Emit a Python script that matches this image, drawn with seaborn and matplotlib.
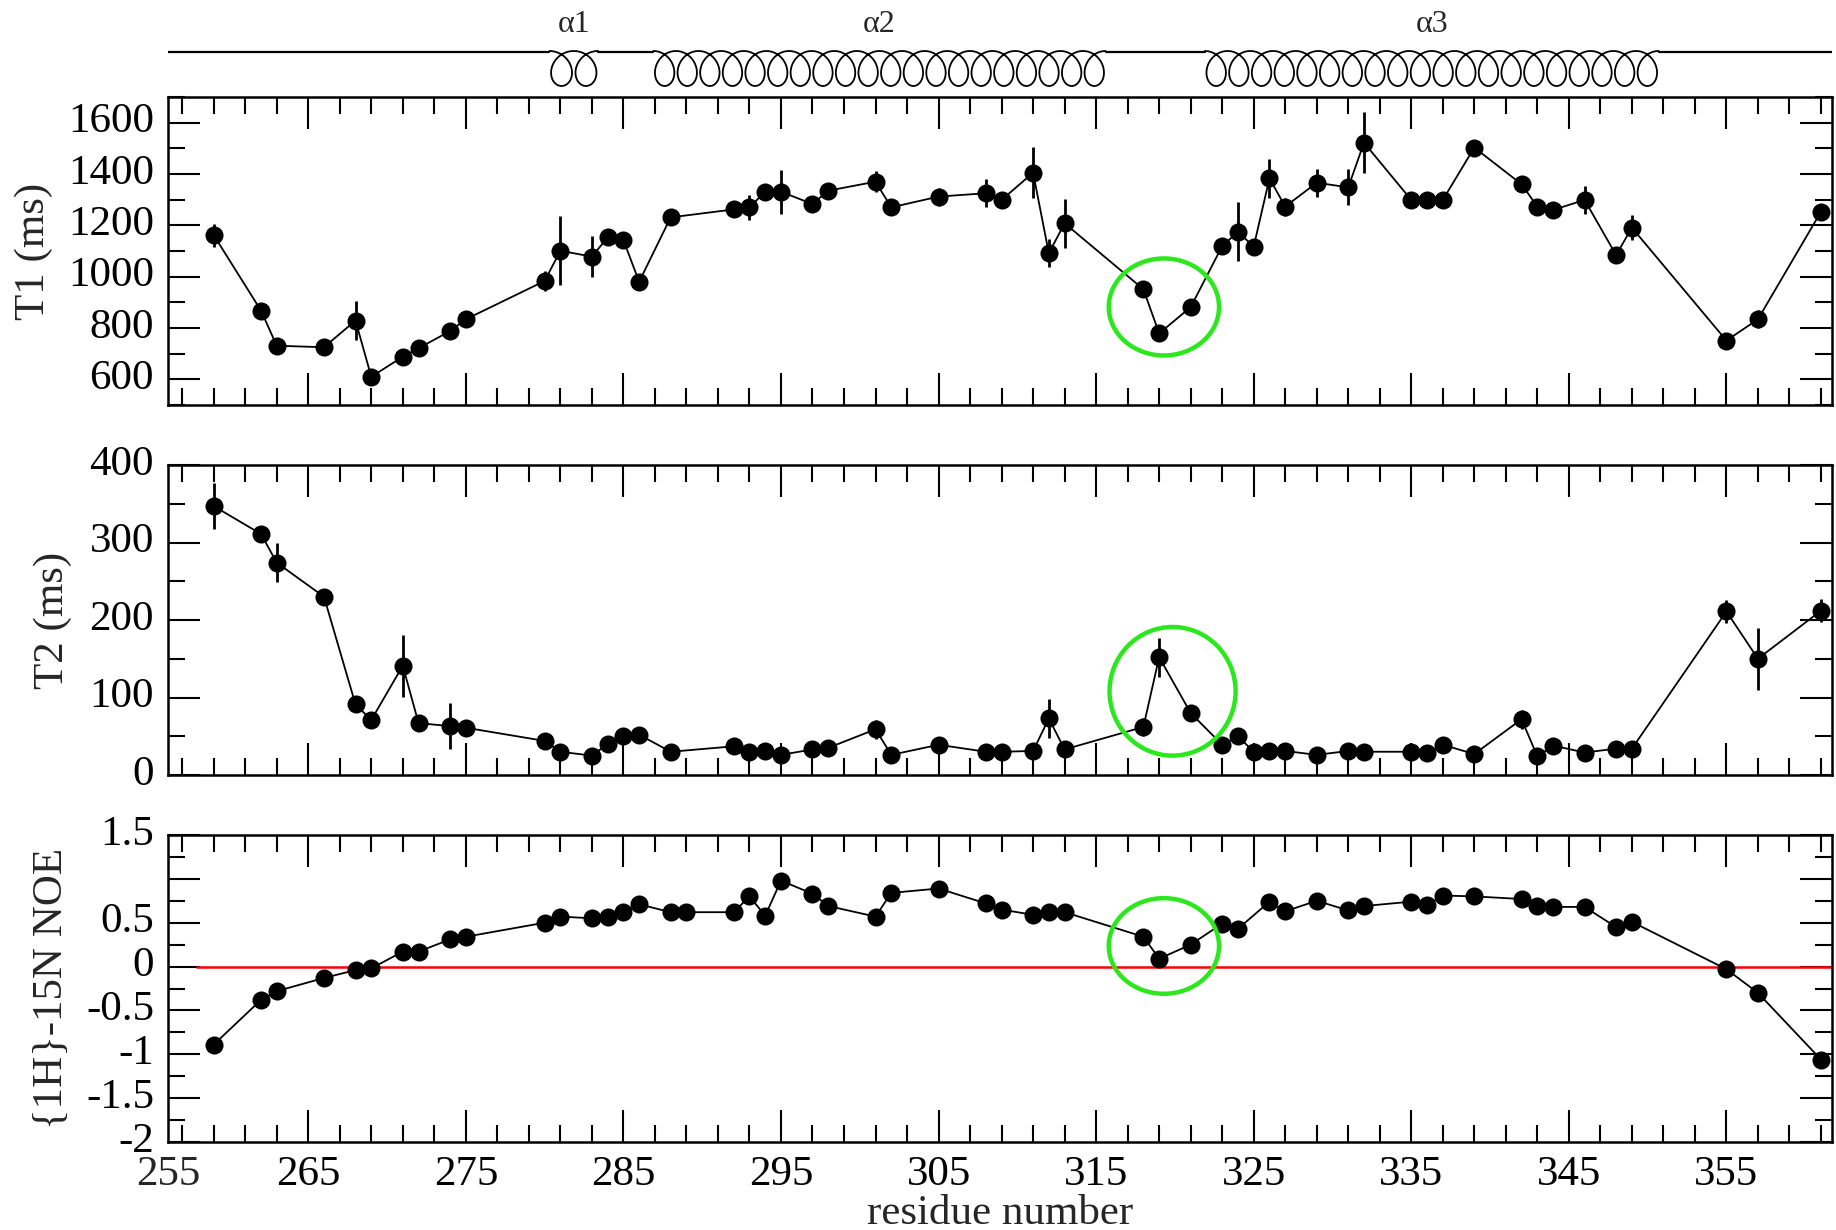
import numpy as np
import matplotlib
matplotlib.use('Agg')
import matplotlib.pyplot as plt
from matplotlib.patches import Ellipse
from matplotlib.ticker import MultipleLocator, FixedLocator
from matplotlib.transforms import ScaledTranslation
import seaborn as sns

# ------------------------------------------------------------
# data
# ------------------------------------------------------------
# residues measured for T1 / T2
RES_T = [259, 262, 263, 266, 268, 269, 271, 272, 274, 275,
         280, 281, 283, 284, 285, 286, 288, 292, 293, 294,
         295, 297, 298, 301, 302, 305, 308, 309, 311, 312,
         313, 318, 319, 321, 323, 324, 325, 326, 327, 329,
         331, 332, 335, 336, 337, 339, 342, 343, 344, 346,
         348, 349, 355, 357, 361]

T1 = [1162, 868, 731, 725, 829, 610, 688, 721, 788, 834,
      983, 1101, 1078, 1153, 1143, 980, 1231, 1262, 1270, 1331,
      1331, 1283, 1335, 1370, 1270, 1312, 1325, 1299, 1405, 1091,
      1208, 951, 779, 881, 1119, 1175, 1117, 1383, 1273, 1366,
      1348, 1522, 1299, 1299, 1299, 1503, 1360, 1273, 1260, 1299,
      1084, 1191, 751, 834, 1253]
T1_ERR = [45, 20, 20, 20, 75, 25, 20, 25, 25, 25,
          40, 135, 80, 25, 25, 25, 25, 25, 50, 25,
          85, 25, 25, 40, 25, 35, 55, 25, 100, 55,
          95, 25, 25, 25, 25, 115, 25, 75, 35, 55,
          70, 120, 25, 25, 25, 25, 25, 25, 25, 55,
          25, 50, 25, 35, 25]

T2 = [347, 311, 274, 230, 91, 71, 141, 67, 63, 61,
      44, 30, 25, 40, 50, 52, 30, 37, 30, 31,
      26, 33, 35, 59, 26, 39, 30, 30, 31, 73,
      33, 62, 152, 80, 39, 50, 30, 31, 31, 26,
      31, 30, 30, 28, 39, 27, 72, 24, 38, 29,
      34, 34, 211, 150, 212]
T2_ERR = [30, 10, 25, 10, 10, 10, 40, 10, 30, 10,
          10, 10, 10, 10, 10, 10, 10, 10, 10, 10,
          10, 10, 10, 12, 10, 10, 10, 10, 10, 25,
          10, 12, 25, 10, 10, 10, 10, 10, 10, 10,
          10, 10, 10, 10, 10, 10, 12, 10, 10, 10,
          10, 10, 15, 40, 15]

# residues measured for the heteronuclear NOE
RES_NOE = [259, 262, 263, 266, 268, 269, 271, 272, 274, 275,
           280, 281, 283, 284, 285, 286, 288, 289, 292, 293,
           294, 295, 297, 298, 301, 302, 305, 308, 309, 311,
           312, 313, 318, 319, 321, 323, 324, 326, 327, 329,
           331, 332, 335, 336, 337, 339, 342, 343, 344, 346,
           348, 349, 355, 357, 361]
NOE = [-0.89, -0.38, -0.28, -0.13, -0.04, -0.02, 0.17, 0.17, 0.31, 0.34,
       0.50, 0.57, 0.55, 0.57, 0.62, 0.71, 0.62, 0.62, 0.62, 0.80,
       0.58, 0.98, 0.83, 0.69, 0.57, 0.84, 0.89, 0.72, 0.65, 0.59,
       0.62, 0.62, 0.34, 0.09, 0.25, 0.49, 0.43, 0.74, 0.63, 0.75,
       0.64, 0.69, 0.74, 0.70, 0.81, 0.80, 0.77, 0.69, 0.68, 0.68,
       0.45, 0.51, -0.03, -0.30, -1.06]
NOE_ERR = [0.06] * len(NOE)

# secondary structure on top
HELIX_NAMES = ['\u03b11', '\u03b12', '\u03b13']
HELIX_START = [280.3, 286.9, 321.9]
HELIX_END = [283.4, 315.6, 350.7]
HELIX_LOOPS = [2, 20, 20]

# green circles around residue 319 (centre x, centre y, width, height per panel)
MARK_X = [319.3, 319.85, 319.3]
MARK_Y = [882, 108, 0.235]
MARK_W = [7.0, 8.0, 7.0]
MARK_H = [378, 166, 1.09]

X_TICKS = [255, 265, 275, 285, 295, 305, 315, 325, 335, 345, 355]
NOE_TICKS = [-2, -1.5, -1, -0.5, 0, 0.5, 1, 1.5]
NOE_TICKLABELS = ['-2', '-1.5', '-1', '-0.5', '0', '0.5', '', '1.5']

XLIM = (256.1, 361.7)
ZERO_LINE_FROM = 257.9

FS = 31
TICK_PAD = 10
GREEN = '#2be81c'


def style_axis(ax, ylim, major, minor):
    ax.set_xlim(XLIM)
    ax.set_ylim(ylim)
    ax.xaxis.set_major_locator(FixedLocator(X_TICKS))
    ax.xaxis.set_minor_locator(MultipleLocator(2, offset=1))
    if major is not None:
        ax.yaxis.set_major_locator(MultipleLocator(major))
    ax.yaxis.set_minor_locator(MultipleLocator(minor))
    ax.tick_params(which='both', direction='in', top=True, right=True,
                   width=1.5, color='black', labelsize=FS, labelcolor='black')
    ax.tick_params(which='major', length=23, pad=TICK_PAD)
    ax.tick_params(which='minor', length=12)
    for sp in ax.spines.values():
        sp.set_linewidth(1.8)
        sp.set_color('black')
    ax.grid(False)


def lift_ylabels(ax):
    # the y tick numbers sit a little above their ticks in the original
    shift = ScaledTranslation(0, 5 / 100, ax.figure.dpi_scale_trans)
    for lab in ax.get_yticklabels():
        lab.set_transform(lab.get_transform() + shift)


def draw_series(ax, res, val, err):
    ax.errorbar(res, val, yerr=err, fmt='none', ecolor='black',
                elinewidth=2.0, capsize=0, zorder=2)
    sns.lineplot(x=res, y=val, ax=ax, color='black', linewidth=1.3,
                 marker='o', markersize=13, markeredgewidth=0,
                 errorbar=None, legend=False, zorder=3)


sns.set_style('ticks')
plt.rcParams['font.family'] = ['Liberation Serif', 'DejaVu Serif']

fig = plt.figure(figsize=(18.36, 12.30), dpi=100)
L = 168 / 1836
W = 1664 / 1836
ax1 = fig.add_axes([L, 1 - 405 / 1230, W, 308 / 1230])
ax2 = fig.add_axes([L, 1 - 775 / 1230, W, 310 / 1230])
ax3 = fig.add_axes([L, 1 - 1142 / 1230, W, 307 / 1230])
axh = fig.add_axes([L, 1 - 97 / 1230, W, 97 / 1230])

# --- T1 ---
draw_series(ax1, RES_T, T1, T1_ERR)
style_axis(ax1, (500, 1700), 200, 100)
ax1.tick_params(labelbottom=False)
ax1.set_xlabel('')
ax1.set_ylabel('T1 (ms)', fontsize=FS)
ax1.yaxis.set_label_coords(-0.0691, 0.5)

# --- T2 ---
draw_series(ax2, RES_T, T2, T2_ERR)
style_axis(ax2, (0, 400), 100, 50)
ax2.tick_params(labelbottom=False)
ax2.set_xlabel('')
ax2.set_ylabel('T2 (ms)', fontsize=FS)
ax2.yaxis.set_label_coords(-0.0577, 0.5)

# --- NOE ---
ax3.hlines(0, ZERO_LINE_FROM, XLIM[1], color='red', linewidth=1.8, zorder=1)
draw_series(ax3, RES_NOE, NOE, NOE_ERR)
style_axis(ax3, (-2, 1.5), None, 0.25)
ax3.yaxis.set_major_locator(FixedLocator(NOE_TICKS))
ax3.set_yticklabels(NOE_TICKLABELS)
ax3.set_ylabel('{1H}-15N NOE', fontsize=FS)
ax3.yaxis.set_label_coords(-0.0583, 0.5)
ax3.set_xlabel('residue number', fontsize=FS, labelpad=0)
# first residue label sits on the left frame edge, just outside the plotted range
ax3.annotate(str(X_TICKS[0]), xy=(XLIM[0], 0), xycoords=('data', 'axes fraction'),
             xytext=(0, -TICK_PAD), textcoords='offset points',
             ha='center', va='top', fontsize=FS)

for ax in (ax1, ax2, ax3):
    lift_ylabels(ax)

for ax, cx, cy, w, h in zip([ax1, ax2, ax3], MARK_X, MARK_Y, MARK_W, MARK_H):
    ax.add_patch(Ellipse((cx, cy), w, h, fill=False, edgecolor=GREEN,
                         linewidth=3.2, zorder=5))

# --- helix cartoon on top (y in pixel-like units, 0 at top) ---
axh.set_xlim(XLIM)
axh.set_ylim(97, 0)
axh.axis('off')
line_y, coil_top, coil_h = 52, 51, 35
gaps_from = [XLIM[0]] + HELIX_END
gaps_to = HELIX_START + [XLIM[1]]
for a, b in zip(gaps_from, gaps_to):
    axh.plot([a, b], [line_y, line_y], color='black', lw=1.6)
for name, a, b, n in zip(HELIX_NAMES, HELIX_START, HELIX_END, HELIX_LOOPS):
    s = (b - a) / n
    t = np.linspace(-np.pi, 2 * np.pi * n - np.pi, 120 * n)
    xc = a + s / 2 + s * t / (2 * np.pi) - 0.66 * s * np.sin(t)
    yc = coil_top + coil_h * (1 + np.cos(t)) / 2
    axh.plot(xc, yc, color='black', lw=1.3)
    axh.text((a + b) / 2, 25, name, ha='center', va='center', fontsize=23)

fig.savefig('out.png', dpi=100)
